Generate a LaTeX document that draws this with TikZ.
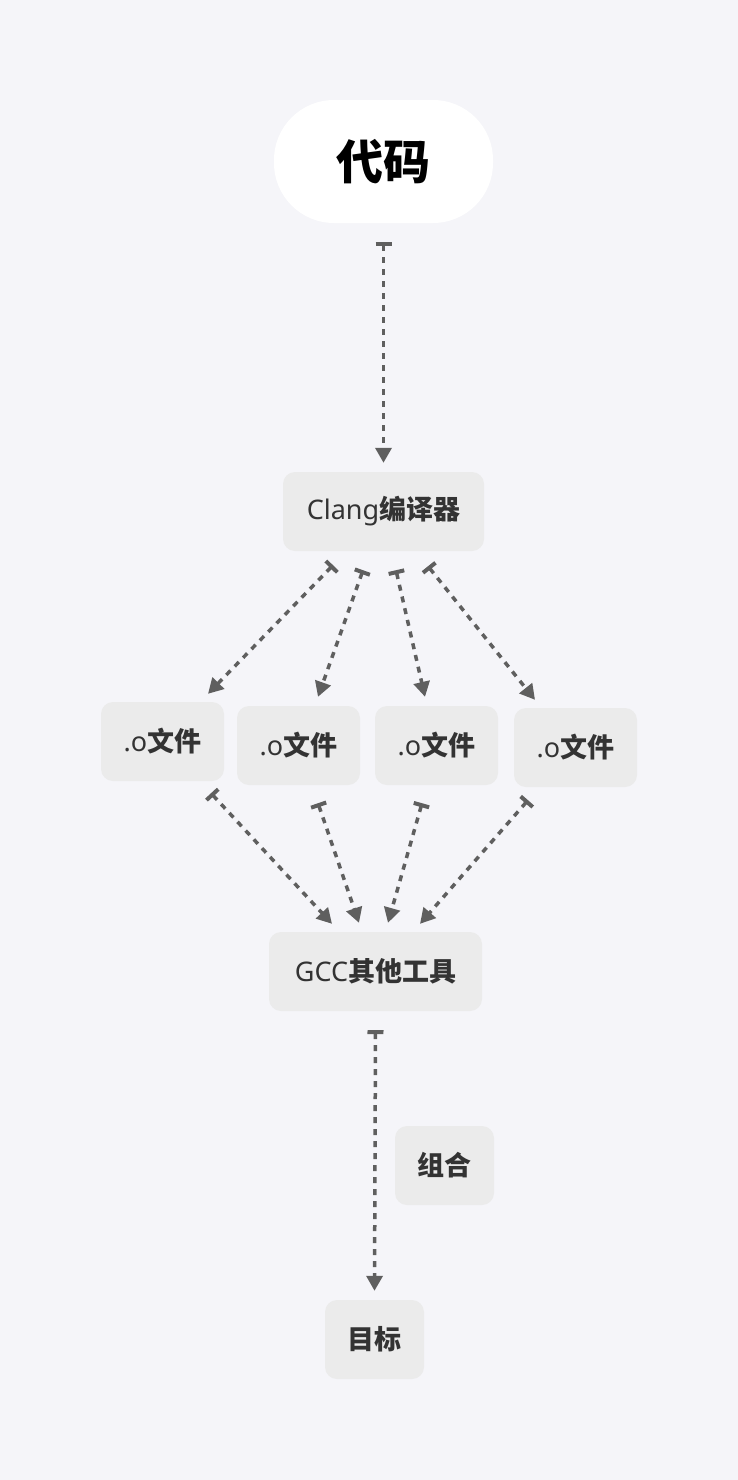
\documentclass[tikz,border=0pt]{standalone}
\usepackage{fontspec}
\setmainfont{Noto Sans}
\newfontfamily\cjkfont{Noto Sans CJK SC}
\newcommand{\cjkb}[1]{{\cjkfont\bfseries #1}}
\usetikzlibrary{arrows.meta,calc}
\definecolor{pagebg}{HTML}{F5F5F9}
\definecolor{boxgray}{HTML}{EBEBEB}
\definecolor{textdark}{HTML}{333333}
\definecolor{flowgray}{HTML}{5F5F5F}
\tikzset{
  box/.style={rectangle, rounded corners=12pt, fill=boxgray, text=textdark,
    minimum height=79pt, inner xsep=0pt, font=\fontsize{27}{32}\selectfont},
  pill/.style={rectangle, rounded corners=60pt, fill=white, text=black,
    minimum width=219pt, minimum height=123pt, font=\fontsize{47}{56}\selectfont},
  flow/.style={draw=flowgray, line width=3.5pt, dash pattern=on 6pt off 6pt,
    {Bar[width=16pt,line width=4pt]}-{Triangle[width=16pt,length=15pt]}}
}
\begin{document}
\begin{tikzpicture}[x=1pt,y=-1pt]
  \fill[pagebg] (0,0) rectangle (738,1480);
  \useasboundingbox (0,0) rectangle (738,1480);
  \node[pill] (code) at (383.5,161.5) {\cjkb{代码}};
  \node[box, minimum width=201pt] (clang) at (383.5,511.5) {Clang\cjkb{编译器}};
  \node[box, minimum width=123pt] (o1) at (162.5,741.5) {.o\cjkb{文件}};
  \node[box, minimum width=123pt] (o2) at (298.5,745.5) {.o\cjkb{文件}};
  \node[box, minimum width=123pt] (o3) at (436.5,745.5) {.o\cjkb{文件}};
  \node[box, minimum width=123pt] (o4) at (575.5,747.5) {.o\cjkb{文件}};
  \node[box, minimum width=213pt] (gcc) at (375.5,971.5) {GCC\cjkb{其他工具}};
  \node[box, minimum width=99pt] (link) at (444.5,1165.5) {\cjkb{组合}};
  \node[box, minimum width=99pt] (target) at (374.5,1339.5) {\cjkb{目标}};
  \begin{scope}[flow]
    \draw ($(code.south)+(0,19)$) -- ($(clang.north)+(0,-9)$);
    \draw ($(clang.south)+(-50.5,14)$) -- ($(o1.north)+(45.5,-8)$);
    \draw ($(clang.south)+(-20.5,19)$) -- ($(o2.north)+(19.5,-9)$);
    \draw ($(clang.south)+(12.5,19)$) -- ($(o3.north)+(-11.5,-9)$);
    \draw ($(clang.south)+(44.5,15)$) -- ($(o4.north)+(-40.5,-8)$);
    \draw ($(o1.south)+(48.5,12)$) -- ($(gcc.north)+(-43.5,-8)$);
    \draw ($(o2.south)+(19.5,18)$) -- ($(gcc.north)+(-16.5,-9)$);
    \draw ($(o3.south)+(-14.5,18)$) -- ($(gcc.north)+(12.5,-9)$);
    \draw ($(o4.south)+(-47.5,13)$) -- ($(gcc.north)+(44.5,-8)$);
    \draw ($(gcc.south)+(0,19)$) -- ($(target.north)+(0,-9)$);
  \end{scope}
\end{tikzpicture}
\end{document}
